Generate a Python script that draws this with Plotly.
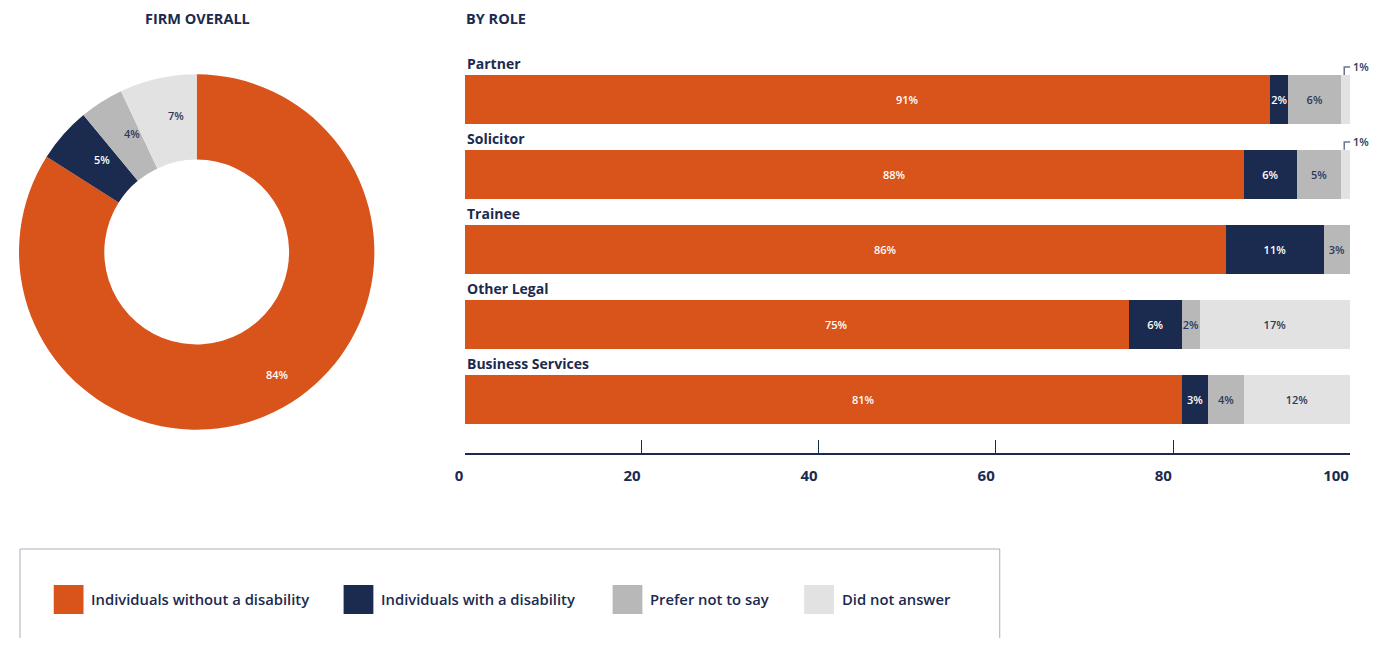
import math
import plotly.graph_objects as go

# ---------------- data ----------------
series_names = ["Individuals without a disability", "Individuals with a disability",
                "Prefer not to say", "Did not answer"]
series_colors = ["#D9541A", "#1B2A4F", "#B8B8B8", "#E2E2E2"]
label_colors = ["#FFFFFF", "#FFFFFF", "#2B3A5C", "#2B3A5C"]

firm_overall = [84, 5, 4, 7]

roles = ["Partner", "Solicitor", "Trainee", "Other Legal", "Business Services"]
without_disability = [91, 88, 86, 75, 81]
with_disability = [2, 6, 11, 6, 3]
prefer_not = [6, 5, 3, 2, 4]
did_not_answer = [1, 1, 0, 17, 12]
role_series = [without_disability, with_disability, prefer_not, did_not_answer]

x_ticks = [0, 20, 40, 60, 80, 100]

NAVY = "#1B2A4F"
FONT = "Open Sans"
OFF = 8                      # page body margin
W, H = 1380 - 2 * OFF, 646 - 2 * OFF


def px(x):
    return min(1.0, max(0.0, (x - OFF) / W))


def py(y):
    return 1 - (y - OFF) / H


fig = go.Figure()

# ---------------- donut ----------------
fig.add_trace(go.Pie(
    values=firm_overall, labels=series_names, hole=0.52, sort=False,
    direction="clockwise", rotation=0,
    marker=dict(colors=series_colors, line=dict(width=0)),
    textinfo="none",
    domain=dict(x=[px(9), px(367)], y=[py(431), py(73)]),
    showlegend=False, hoverinfo="label+value",
))

annotations = []
shapes = []

# donut labels placed at mid-angle of each slice
total = sum(firm_overall)
cum = 0
for v, c in zip(firm_overall, label_colors):
    theta = 2 * math.pi * (cum + v / 2) / total
    cum += v
    r = 140
    annotations.append(dict(x=px(188), y=py(252), xref="paper", yref="paper",
                            text=f"{v}%", showarrow=False,
                            xshift=r * math.sin(theta), yshift=r * math.cos(theta),
                            font=dict(family=FONT, size=11, color=c, weight=600)))

# ---------------- stacked bars ----------------
for i, (name, vals) in enumerate(zip(series_names, role_series)):
    if i == 0:
        texts = ["" for v in vals]
    else:
        texts = [f"{v}%" if v >= 1.5 else "" for v in vals]
    fig.add_trace(go.Bar(
        y=roles, x=vals, orientation="h", name=name,
        marker=dict(color=series_colors[i], line=dict(width=0)),
        text=texts, textposition="inside", insidetextanchor="middle",
        textangle=0,
        textfont=dict(family=FONT, size=11, color=label_colors[i], weight=600),
        constraintext="none", cliponaxis=False,
        xaxis="x", yaxis="y", showlegend=False, width=0.653,
    ))

# orange labels (slightly right of centre as in the reference)
for r, v in zip(roles, without_disability):
    annotations.append(dict(x=v / 2, y=r, xref="x", yref="y", text=f"{v}%",
                            showarrow=False, xshift=40,
                            font=dict(family=FONT, size=11, color="#FFFFFF", weight=600)))

# category labels above the bars
for r in roles:
    annotations.append(dict(x=0, y=r, xref="x", yref="y", text=r, showarrow=False,
                            xanchor="left", yanchor="middle", yshift=36,
                            font=dict(family=FONT, size=14, color=NAVY, weight=700)))

# small "did not answer" values shown outside with a bracket
for idx, r in enumerate(roles):
    v = did_not_answer[idx]
    if 0 < v < 1.5:
        start = sum(s[idx] for s in role_series[:3])
        yi = idx
        xa = start + v * 0.33
        xb = start + v + 0.1
        shapes.append(dict(type="path", xref="x", yref="y",
                           path=f"M {xa},{yi - 0.327} L {xa},{yi - 0.433} L {xb},{yi - 0.433}",
                           line=dict(color="#6B7590", width=1.5)))
        annotations.append(dict(x=start + v, y=r, xref="x", yref="y", text=f"{v}%",
                                showarrow=False, xanchor="left", xshift=1, yshift=32.5,
                                font=dict(family=FONT, size=11, color="#2B3A5C", weight=600)))

# titles
annotations.append(dict(x=px(189), y=py(18.5), xref="paper", yref="paper", text="FIRM OVERALL",
                        showarrow=False, xanchor="center", yanchor="middle",
                        font=dict(family=FONT, size=14.5, color=NAVY, weight=700)))
annotations.append(dict(x=px(457), y=py(18.5), xref="paper", yref="paper", text="BY ROLE",
                        showarrow=False, xanchor="left", yanchor="middle",
                        font=dict(family=FONT, size=14.5, color=NAVY, weight=700)))

# legend box
shapes.append(dict(type="rect", xref="paper", yref="paper", x0=px(10), x1=px(997),
                   y0=py(670), y1=py(549), line=dict(color="#A8AFBD", width=1),
                   fillcolor="rgba(0,0,0,0)"))
legend_x = [44, 336, 607, 800]
for name, col, lx in zip(series_names, series_colors, legend_x):
    shapes.append(dict(type="rect", xref="paper", yref="paper",
                       x0=px(lx), x1=px(lx + 30), y0=py(614), y1=py(585),
                       line=dict(width=0), fillcolor=col))
    annotations.append(dict(x=px(lx + 36), y=py(599), xref="paper", yref="paper",
                            text=name, showarrow=False, xanchor="left", yanchor="middle",
                            font=dict(family=FONT, size=14.8, color=NAVY, weight=600)))

fig.update_layout(
    width=W, height=H, margin=dict(l=0, r=0, t=0, b=0),
    paper_bgcolor="white", plot_bgcolor="white",
    barmode="stack", bargap=0.347,
    xaxis=dict(domain=[px(458), px(1350)], range=[0, 100], tickvals=x_ticks,
               showgrid=False, zeroline=False, showline=True, linecolor=NAVY, linewidth=1.5,
               ticks="inside", ticklen=13, tickcolor=NAVY, tickwidth=1,
               ticklabelposition="outside left", ticklabelstandoff=8,
               tickfont=dict(family=FONT, size=15, color=NAVY, weight=700), anchor="y"),
    yaxis=dict(domain=[py(453), py(62)], type="category", categoryorder="array",
               categoryarray=roles, range=[4.72, -0.5], showticklabels=False,
               showgrid=False, zeroline=False, showline=False, anchor="x"),
    annotations=annotations, shapes=shapes,
    font=dict(family=FONT, color=NAVY),
    showlegend=False,
)

fig.write_html("out.html")
